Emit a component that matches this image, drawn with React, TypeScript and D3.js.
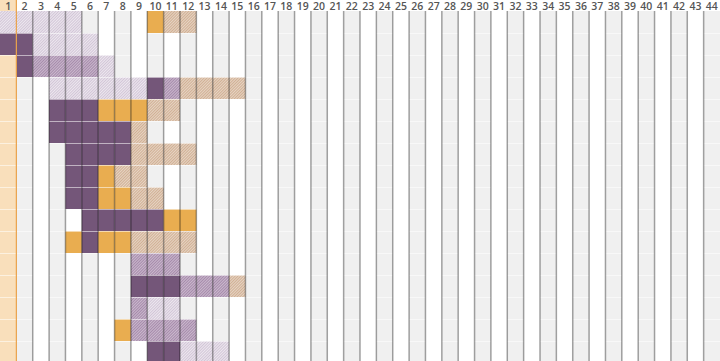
import React from "react";
import * as d3 from "d3";

// Column tick labels (1..44)
const columnLabels: string[] = Array.from({ length: 44 }, (_, i) => String(i + 1));

// Highlighted column
const highlightColumn = "1";

// Row cell codes, one string per row; position = column (1-based)
// D = dark purple, M = medium purple hatched, L = light purple hatched,
// O = orange, T = tan hatched, . = empty
const rowCodes: string[] = [
  "LLLLL....OTT",
  "DDLLLL",
  ".DMMMML",
  "...LLLLLLDMTTTT",
  "...DDDOOOTT",
  "...DDDDDT",
  "....DDDDTTTT",
  "....DDOTT",
  "....DDOOTT",
  ".....DDDDDOO",
  "....ODOOTTTT",
  "........MMM",
  "........DDDMMMT",
  "........MLL",
  ".......OMMMM",
  ".........DDLLL",
];

const categories = ["D", "M", "L", "O", "T"];

const W = 720;
const H = 361;
const headerH = 11;
const rowH = 22;

export default function App() {
  const x = d3.scaleBand<string>().domain(columnLabels).range([0, W]).paddingInner(0).paddingOuter(0);
  const rowIds = rowCodes.map((_, i) => String(i));
  const y = d3
    .scaleBand<string>()
    .domain(rowIds)
    .range([headerH, headerH + rowIds.length * rowH]);

  const fill = d3
    .scaleOrdinal<string, string>()
    .domain(categories)
    .range(["#745679", "url(#hatchM)", "url(#hatchL)", "#e9ad50", "url(#hatchT)"]);

  const cells: { col: string; row: string; cat: string }[] = [];
  rowCodes.forEach((codes, r) => {
    codes.split("").forEach((c, ci) => {
      if (c !== ".") cells.push({ col: columnLabels[ci], row: String(r), cat: c });
    });
  });

  const bw = x.bandwidth();

  return (
    <svg
      width={W}
      height={H}
      style={{ position: "absolute", left: 0, top: 0, display: "block", background: "#fff" }}
      fontFamily="'Open Sans', 'DejaVu Sans', sans-serif"
    >
      <defs>
        <pattern id="hatchM" width={2} height={2} patternUnits="userSpaceOnUse" patternTransform="rotate(45)">
          <rect width={2} height={2} fill="#a68aab" />
          <rect width={1} height={2} fill="#ffffff" fillOpacity={0.4} />
        </pattern>
        <pattern id="hatchL" width={2} height={2} patternUnits="userSpaceOnUse" patternTransform="rotate(45)">
          <rect width={2} height={2} fill="#d2c5d7" />
          <rect width={1} height={2} fill="#ffffff" fillOpacity={0.6} />
        </pattern>
        <pattern id="hatchT" width={2} height={2} patternUnits="userSpaceOnUse" patternTransform="rotate(45)">
          <rect width={2} height={2} fill="#d1b094" />
          <rect width={1} height={2} fill="#ffffff" fillOpacity={0.45} />
        </pattern>
      </defs>

      {/* column backgrounds */}
      {columnLabels.map((c, i) => {
        const isHi = c === highlightColumn;
        const grey = (i + 1) % 2 === 0;
        if (!isHi && !grey) return null;
        return (
          <rect
            key={"bg" + c}
            x={x(c)}
            y={isHi ? 0 : headerH}
            width={bw}
            height={isHi ? H : H - headerH}
            fill={isHi ? "#f9dfbb" : "#f0f0f0"}
          />
        );
      })}

      {/* cells */}
      {cells.map((d, i) => (
        <rect key={"c" + i} x={x(d.col)} y={y(d.row)} width={bw} height={y.bandwidth()} fill={fill(d.cat)} />
      ))}

      {/* horizontal row separators */}
      {rowIds.slice(1).map((r) => (
        <line
          key={"h" + r}
          x1={0}
          x2={W}
          y1={(y(r) as number) + 0.5}
          y2={(y(r) as number) + 0.5}
          stroke="#ffffff"
          strokeOpacity={0.55}
          strokeWidth={1}
        />
      ))}

      {/* vertical column separators */}
      {columnLabels.slice(1).map((c, i) => {
        const prev = columnLabels[i];
        const xx = x(c) as number;
        const isHiEdge = prev === highlightColumn;
        return (
          <line
            key={"v" + c}
            x1={xx}
            x2={xx}
            y1={isHiEdge ? 0 : headerH}
            y2={H}
            stroke={isHiEdge ? "#eaa24a" : "#000"}
            strokeOpacity={isHiEdge ? 1 : 0.36}
            strokeWidth={isHiEdge ? 1.2 : 1.5}
          />
        );
      })}

      {/* header labels */}
      {columnLabels.map((c) => (
        <text
          key={"t" + c}
          x={(x(c) as number) + bw / 2}
          y={9.5}
          textAnchor="middle"
          fontSize={10.5}
          fontWeight={600}
          fill="#555555"
        >
          {c}
        </text>
      ))}
    </svg>
  );
}
